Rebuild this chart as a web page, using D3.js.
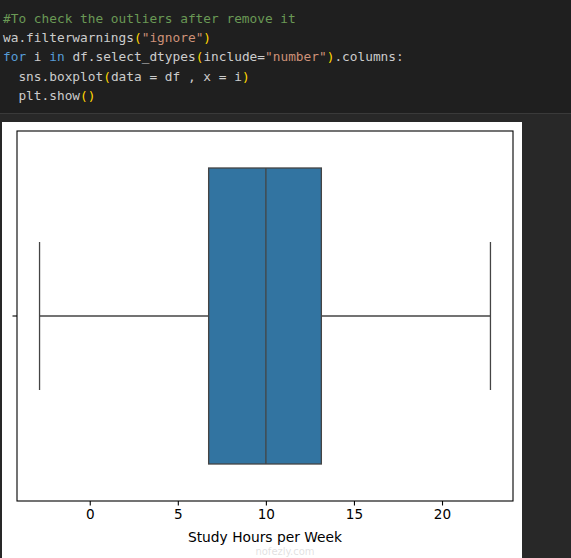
<!DOCTYPE html>
<html><head><meta charset="utf-8">
<script src="https://cdn.jsdelivr.net/npm/d3@7"></script>
<style>
html,body{margin:0;padding:0;background:#262626;}
svg{display:block;}
</style></head>
<body>
<svg id="c" width="571" height="558"></svg>
<script>
// ---- data ----
const variable = "Study Hours per Week";
const boxStats = [{q1: 6.75, median: 10.0, q3: 13.15, whiskerLow: -2.85, whiskerHigh: 22.75}];
const xTicks = [0, 5, 10, 15, 20];
const codeLines = [
  [["#To check the outliers after remove it", "#6a9955"]],
  [["wa.filterwarnings", "#cccccc"], ["(", "#ffd700"], ["\"ignore\"", "#ce9178"], [")", "#ffd700"]],
  [["for", "#569cd6"], [" i ", "#cccccc"], ["in", "#569cd6"], [" df.select_dtypes", "#cccccc"], ["(", "#ffd700"], ["include=", "#cccccc"], ["\"number\"", "#ce9178"], [")", "#ffd700"], [".columns:", "#cccccc"]],
  [["  sns.boxplot", "#cccccc"], ["(", "#ffd700"], ["data = df , x = i", "#cccccc"], [")", "#ffd700"]],
  [["  plt.show", "#cccccc"], ["()", "#ffd700"]]
];

const svg = d3.select("#c");
// backgrounds
svg.append("rect").attr("x",0).attr("y",0).attr("width",571).attr("height",113).attr("fill","#1f1f1f");
svg.append("rect").attr("x",0).attr("y",113).attr("width",571).attr("height",1).attr("fill","#3a3a3a");
svg.append("rect").attr("x",0).attr("y",114).attr("width",571).attr("height",444).attr("fill","#282828");
svg.append("rect").attr("x",2).attr("y",122).attr("width",520).attr("height",436).attr("fill","#ffffff");

// code
const code = svg.append("g").attr("font-family","'DejaVu Sans Mono', monospace").attr("font-size","12.8px");
codeLines.forEach((line,i)=>{
  const t = code.append("text").attr("x",3).attr("y",23 + i*19.2).attr("xml:space","preserve").style("white-space","pre");
  line.forEach(([s,c])=>t.append("tspan").attr("fill",c).text(s));
});

// plot
const frame = {left:17, right:513, top:131, bottom:501};
const lo = boxStats[0].whiskerLow, hi = boxStats[0].whiskerHigh;
const pad = (hi-lo)*0.05;
const x = d3.scaleLinear().domain([lo-pad, hi+pad]).range([frame.left, frame.right]);
const y = d3.scaleBand().domain([variable]).range([frame.top, frame.bottom]).padding(0);

const g = svg.append("g");
const bw = y.bandwidth()*0.8;
const cy = y(variable) + y.bandwidth()/2;
const lineColor = "#444444";
boxStats.forEach(d=>{
  g.append("line").attr("x1",x(d.whiskerLow)).attr("x2",x(d.q1)).attr("y1",cy).attr("y2",cy).attr("stroke",lineColor).attr("stroke-width",1.3);
  g.append("line").attr("x1",x(d.q3)).attr("x2",x(d.whiskerHigh)).attr("y1",cy).attr("y2",cy).attr("stroke",lineColor).attr("stroke-width",1.3);
  [d.whiskerLow,d.whiskerHigh].forEach(v=>{
    g.append("line").attr("x1",x(v)).attr("x2",x(v)).attr("y1",cy-bw/4).attr("y2",cy+bw/4).attr("stroke",lineColor).attr("stroke-width",1.3);
  });
  g.append("rect").attr("x",x(d.q1)).attr("y",cy-bw/2).attr("width",x(d.q3)-x(d.q1)).attr("height",bw)
    .attr("fill","#3274a1").attr("stroke",lineColor).attr("stroke-width",1.3);
  g.append("line").attr("x1",x(d.median)).attr("x2",x(d.median)).attr("y1",cy-bw/2).attr("y2",cy+bw/2).attr("stroke",lineColor).attr("stroke-width",1.3);
});

// frame
svg.append("rect").attr("x",frame.left).attr("y",frame.top).attr("width",frame.right-frame.left).attr("height",frame.bottom-frame.top)
  .attr("fill","none").attr("stroke","#000").attr("stroke-width",1.1);

// x axis
const xa = svg.append("g").attr("transform",`translate(0,${frame.bottom})`)
  .call(d3.axisBottom(x).tickValues(xTicks).tickSize(4.5).tickPadding(4));
xa.select(".domain").remove();
xa.selectAll("line").attr("stroke","#000").attr("stroke-width",1.1);
xa.selectAll("text").attr("font-family","'DejaVu Sans', sans-serif").attr("font-size","13.6px").attr("fill","#000");
// y tick (no label)
const ya = svg.append("g").attr("transform",`translate(${frame.left},0)`)
  .call(d3.axisLeft(y).tickSize(4.5).tickFormat(""));
ya.select(".domain").remove();
ya.selectAll("line").attr("stroke","#000").attr("stroke-width",1.1);

// x label
svg.append("text").attr("x",(frame.left+frame.right)/2).attr("y",542).attr("text-anchor","middle")
  .attr("font-family","'DejaVu Sans', sans-serif").attr("font-size","13.8px").attr("fill","#000").text(variable);
// watermark
svg.append("text").attr("x",(frame.left+frame.right)/2+20).attr("y",555).attr("text-anchor","middle")
  .attr("font-family","'DejaVu Sans', sans-serif").attr("font-size","10px").attr("fill","#000").attr("opacity",0.12).text("nofezly.com");
</script>
</body></html>
